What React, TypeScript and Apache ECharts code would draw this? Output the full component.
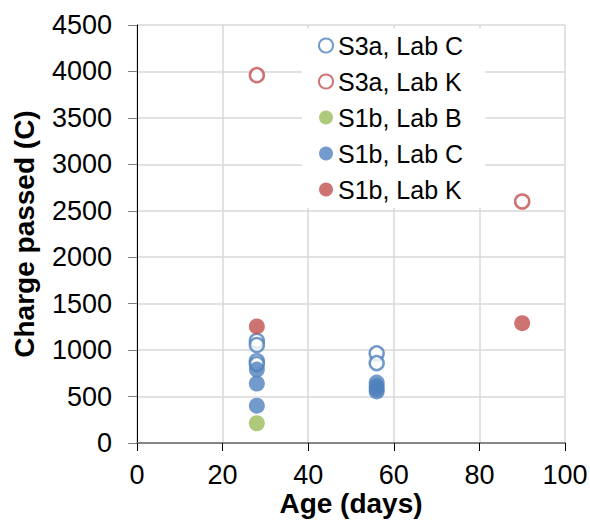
import React, { useEffect, useRef } from "react";
import * as echarts from "echarts";

const xTicks = { min: 0, max: 100, interval: 20 };
const yTicks = { min: 0, max: 4500, interval: 500 };

const seriesNames = ["S3a, Lab C", "S3a, Lab K", "S1b, Lab B", "S1b, Lab C", "S1b, Lab K"];

const s3aLabC: number[][] = [
  [28, 1100], [28, 1055], [28, 880], [28, 850],
  [56, 965], [56, 860],
];
const s3aLabK: number[][] = [
  [28, 3960], [90, 2600],
];
const s1bLabB: number[][] = [
  [28, 213],
];
const s1bLabC: number[][] = [
  [28, 790], [28, 640], [28, 402],
  [56, 650], [56, 610], [56, 580], [56, 555],
];
const s1bLabK: number[][] = [
  [28, 1255], [90, 1290],
];

const BLUE = "#4F81BD";
const RED = "#C0504D";
const GREEN = "#9BBB59";
const FONT = "Liberation Sans, Arial, sans-serif";

export default function App() {
  const ref = useRef<HTMLDivElement>(null);
  useEffect(() => {
    if (!ref.current) return;
    const chart = echarts.init(ref.current, undefined, { renderer: "svg" });
    const open = (name: string, data: number[][], color: string) => ({
      name,
      type: "scatter",
      data,
      symbol: "circle",
      symbolSize: 14,
      itemStyle: { color: "#ffffff", borderColor: color, borderWidth: 2.5 },
    });
    const filled = (name: string, data: number[][], color: string) => ({
      name,
      type: "scatter",
      data,
      symbol: "circle",
      symbolSize: 16,
      itemStyle: { color },
    });
    chart.setOption({
      animation: false,
      textStyle: { fontFamily: FONT },
      grid: {
        left: 137,
        right: 25,
        top: 25,
        bottom: 77,
        containLabel: false,
        outerBoundsMode: "none",
      },
      legend: {
        orient: "vertical",
        left: 302,
        top: 28,
        padding: [5, 22, 6, 16],
        backgroundColor: "#ffffff",
        itemWidth: 14,
        itemHeight: 14,
        itemGap: 11,
        icon: "circle",
        data: seriesNames,
        textStyle: { fontSize: 25, color: "#000", fontFamily: FONT, lineHeight: 24 },
      },
      xAxis: {
        type: "value",
        min: xTicks.min,
        max: xTicks.max,
        interval: xTicks.interval,
        name: "Age (days)",
        nameLocation: "middle",
        nameGap: 47,
        nameMoveOverlap: false,
        nameTextStyle: {
          fontSize: 28,
          fontWeight: "bold",
          color: "#000",
          fontFamily: FONT,
          lineHeight: 26,
        },
        axisLine: { show: true, lineStyle: { color: "#868686", width: 2 } },
        axisTick: { show: true, inside: false, length: 8, lineStyle: { color: "#000" } },
        axisLabel: { fontSize: 27, color: "#000", margin: 18, fontFamily: FONT, lineHeight: 27 },
        splitLine: { show: true, lineStyle: { color: "#d9d9d9", width: 1.5 } },
      },
      yAxis: {
        type: "value",
        min: yTicks.min,
        max: yTicks.max,
        interval: yTicks.interval,
        name: "Charge passed (C)",
        nameLocation: "middle",
        nameGap: 99,
        nameMoveOverlap: false,
        nameTextStyle: { fontSize: 28, fontWeight: "bold", color: "#000", fontFamily: FONT },
        axisLine: { show: true, lineStyle: { color: "#000", width: 1 } },
        axisTick: { show: true, inside: false, length: 9, lineStyle: { color: "#808080" } },
        axisLabel: {
          fontSize: 27,
          color: "#000",
          margin: 25,
          fontFamily: FONT,
          formatter: (v: number) => String(v),
        },
        splitLine: { show: true, lineStyle: { color: "#d9d9d9", width: 1.5 } },
      },
      series: [
        open(seriesNames[0], s3aLabC, BLUE),
        open(seriesNames[1], s3aLabK, RED),
        filled(seriesNames[2], s1bLabB, GREEN),
        filled(seriesNames[3], s1bLabC, BLUE),
        filled(seriesNames[4], s1bLabK, RED),
      ],
    });
    return () => chart.dispose();
  }, []);
  return (
    <div
      ref={ref}
      style={{ position: "absolute", left: 0, top: 0, width: 590, height: 520, background: "#fff" }}
    />
  );
}
